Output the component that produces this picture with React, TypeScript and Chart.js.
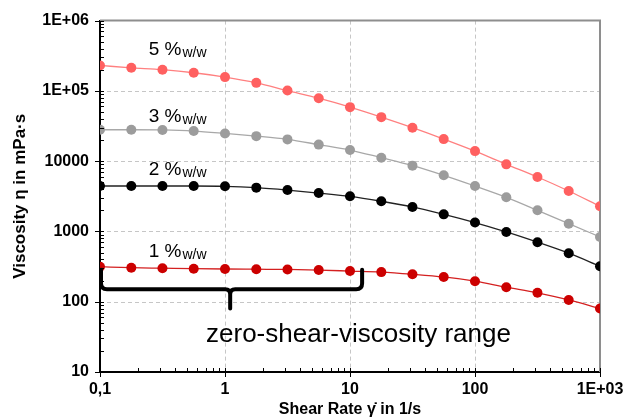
import React, { useEffect, useRef } from 'react';
import { Chart, registerables } from 'chart.js';

Chart.register(...registerables);

// ---- data ----
const shearRate = [0.1, 0.178, 0.316, 0.562, 1, 1.78, 3.16, 5.62, 10, 17.8, 31.6, 56.2, 100, 178, 316, 562, 1000];
const visc5 = [230000, 213000, 200000, 181000, 157000, 130000, 101000, 78700, 58700, 42300, 29900, 20600, 13900, 9010, 5950, 3760, 2280];
const visc3 = [28000, 28000, 27800, 26800, 24800, 22700, 20400, 17200, 14400, 11200, 8630, 6290, 4430, 3060, 2000, 1290, 835];
const visc2 = [4430, 4430, 4430, 4430, 4390, 4200, 3880, 3520, 3160, 2690, 2230, 1750, 1340, 984, 703, 490, 320];
const visc1 = [315, 305, 300, 295, 292, 290, 288, 282, 273, 264, 246, 225, 196, 161, 134, 106, 80];

const seriesNames = ['5 %', '3 %', '2 %', '1 %'];
const seriesSub = 'w/w';

const xTickValues = [0.1, 1, 10, 100, 1000];
const xTickLabels = ['0,1', '1', '10', '100', '1E+03'];
const yTickValues = [10, 100, 1000, 10000, 100000, 1000000];
const yTickLabels = ['10', '100', '1000', '10000', '1E+05', '1E+06'];

// annotation anchors (data coordinates)
const labelX = 0.245;
const labelY = [329000, 35600, 6290, 430];
const rangeText = 'zero-shear-viscosity range';
const rangeTextAt = { x: 0.705, y: 26.7 };
const brace = { from: 0.1, to: 12.5, tip: 1.1, top: 285, line: 150, tipY: 80 };

const FONT = "'Liberation Sans', Arial, Helvetica, sans-serif";

function labelFor(values: number[], labels: string[], v: number) {
  const i = values.findIndex((t) => Math.abs(Math.log10(t) - Math.log10(v)) < 1e-6);
  return i >= 0 ? labels[i] : '';
}

export default function App() {
  const ref = useRef<HTMLCanvasElement>(null);

  useEffect(() => {
    document.body.style.margin = '0';
    const canvas = ref.current;
    if (!canvas) return;

    const overlay = {
      id: 'overlay',
      beforeDatasetsDraw(chart: any) {
        const { ctx, chartArea: a, scales } = chart;
        const xs = scales.x;
        const ys = scales.y;
        ctx.save();
        // dashed grid
        ctx.strokeStyle = '#c6c6c6';
        ctx.lineWidth = 1;
        ctx.setLineDash([4, 3]);
        yTickValues.slice(1, -1).forEach((v) => {
          const y = Math.round(ys.getPixelForValue(v)) + 0.5;
          ctx.beginPath();
          ctx.moveTo(a.left, y);
          ctx.lineTo(a.right, y);
          ctx.stroke();
        });
        xTickValues.slice(1, -1).forEach((v) => {
          const x = Math.round(xs.getPixelForValue(v)) + 0.5;
          ctx.beginPath();
          ctx.moveTo(x, a.top);
          ctx.lineTo(x, a.bottom);
          ctx.stroke();
        });
        ctx.setLineDash([]);
        // top & right frame
        ctx.strokeStyle = '#8e8e8e';
        ctx.lineWidth = 2;
        ctx.beginPath();
        ctx.moveTo(a.left, a.top);
        ctx.lineTo(a.right, a.top);
        ctx.lineTo(a.right, a.bottom);
        ctx.stroke();
        ctx.restore();
      },
      afterDraw(chart: any) {
        const { ctx, chartArea: a, scales } = chart;
        const xs = scales.x;
        const ys = scales.y;
        ctx.save();
        // tick marks
        ctx.strokeStyle = '#000';
        ctx.lineWidth = 1;
        const line = (x1: number, y1: number, x2: number, y2: number) => {
          ctx.beginPath();
          ctx.moveTo(x1, y1);
          ctx.lineTo(x2, y2);
          ctx.stroke();
        };
        for (let e = 1; e < 6; e++) {
          for (let m = 2; m < 10; m++) {
            const y = Math.round(ys.getPixelForValue(m * Math.pow(10, e))) + 0.5;
            line(a.left, y, a.left + 4, y);
          }
        }
        yTickValues.forEach((v) => {
          const y = Math.round(ys.getPixelForValue(v)) + 0.5;
          line(a.left - 5, y, a.left + 4, y);
        });
        for (let e = -1; e < 3; e++) {
          for (let m = 2; m < 10; m++) {
            const x = Math.round(xs.getPixelForValue(m * Math.pow(10, e))) + 0.5;
            line(x, a.bottom, x, a.bottom - 4);
          }
        }
        xTickValues.forEach((v) => {
          const x = Math.round(xs.getPixelForValue(v)) + 0.5;
          line(x, a.bottom - 4, x, a.bottom + 5);
        });

        // brace
        const xl = xs.getPixelForValue(brace.from) + 1;
        const xr = xs.getPixelForValue(brace.to);
        const xc = xs.getPixelForValue(brace.tip);
        const yt = ys.getPixelForValue(brace.top);
        const yl = ys.getPixelForValue(brace.line);
        const yTip = ys.getPixelForValue(brace.tipY);
        const r = 6;
        const r2 = 5;
        ctx.strokeStyle = '#000';
        ctx.lineWidth = 4;
        ctx.lineCap = 'round';
        ctx.lineJoin = 'round';
        ctx.beginPath();
        ctx.moveTo(xl, yt);
        ctx.lineTo(xl, yl - r);
        ctx.quadraticCurveTo(xl, yl, xl + r, yl);
        ctx.lineTo(xc - r2, yl);
        ctx.quadraticCurveTo(xc, yl, xc, yl + r2);
        ctx.lineTo(xc, yTip);
        ctx.moveTo(xc, yl + r2);
        ctx.quadraticCurveTo(xc, yl, xc + r2, yl);
        ctx.lineTo(xr - r, yl);
        ctx.quadraticCurveTo(xr, yl, xr, yl - r);
        ctx.lineTo(xr, yt);
        ctx.stroke();

        // series labels
        ctx.fillStyle = '#000';
        ctx.textBaseline = 'alphabetic';
        ctx.textAlign = 'left';
        seriesNames.forEach((name, i) => {
          const x = xs.getPixelForValue(labelX);
          const y = ys.getPixelForValue(labelY[i]);
          ctx.font = `19px ${FONT}`;
          ctx.fillText(name, x, y);
          const w = ctx.measureText(name).width;
          ctx.font = `14px ${FONT}`;
          ctx.fillText(seriesSub, x + w + 1, y + 2);
        });

        // range text
        ctx.font = `26px ${FONT}`;
        ctx.fillText(rangeText, xs.getPixelForValue(rangeTextAt.x), ys.getPixelForValue(rangeTextAt.y));
        ctx.restore();
      },
    };

    const mk = (label: string, data: number[], point: string, lineCol: string) => ({
      label,
      data: shearRate.map((x, i) => ({ x, y: data[i] })),
      borderColor: lineCol,
      backgroundColor: point,
      pointBackgroundColor: point,
      pointBorderWidth: 0,
      pointRadius: 5,
      borderWidth: 1.3,
      cubicInterpolationMode: 'monotone' as const,
    });

    const chart = new Chart(canvas, {
      type: 'line',
      data: {
        datasets: [
          mk('5 %w/w', visc5, '#ff6060', '#ff8080'),
          mk('3 %w/w', visc3, '#9c9c9c', '#a8a8a8'),
          mk('2 %w/w', visc2, '#000000', '#222222'),
          mk('1 %w/w', visc1, '#cc0000', '#d42020'),
        ],
      },
      options: {
        responsive: false,
        animation: false,
        events: [],
        layout: { padding: { left: 0, top: 20, right: 43, bottom: 0 } },
        plugins: { legend: { display: false }, tooltip: { enabled: false } },
        scales: {
          x: {
            type: 'logarithmic',
            min: 0.1,
            max: 1000,
            afterFit: (s: any) => { s.height = 47; },
            afterBuildTicks: (s: any) => { s.ticks = xTickValues.map((v) => ({ value: v })); },
            grid: { display: false, drawTicks: false },
            border: { display: true, color: '#000', width: 2 },
            ticks: {
              autoSkip: false,
              maxRotation: 0,
              padding: 8,
              color: '#000',
              font: { family: FONT, size: 16, weight: 'bold' },
              callback: (v: any) => labelFor(xTickValues, xTickLabels, Number(v)),
            },
            title: {
              display: true,
              text: 'Shear Rate \u03B3\u0307 in 1/s',
              color: '#000',
              font: { family: FONT, size: 16, weight: 'bold' },
              padding: { top: 0, bottom: 0 },
            },
          },
          y: {
            type: 'logarithmic',
            min: 10,
            max: 1000000,
            afterFit: (s: any) => { s.width = 100; },
            afterBuildTicks: (s: any) => { s.ticks = yTickValues.map((v) => ({ value: v })); },
            grid: { display: false, drawTicks: false },
            border: { display: true, color: '#000', width: 2 },
            ticks: {
              autoSkip: false,
              padding: 11,
              color: '#000',
              font: { family: FONT, size: 16, weight: 'bold' },
              callback: (v: any) => labelFor(yTickValues, yTickLabels, Number(v)),
            },
            title: {
              display: true,
              text: 'Viscosity \u03B7 in mPa\u00B7s',
              color: '#000',
              font: { family: FONT, size: 17, weight: 'bold' },
              padding: { top: 10, bottom: 0 },
            },
          },
        },
      },
      plugins: [overlay],
    } as any);

    return () => chart.destroy();
  }, []);

  return (
    <div style={{ width: 643, height: 419, overflow: 'hidden' }}>
      <canvas ref={ref} width={643} height={419} style={{ display: 'block' }} />
    </div>
  );
}
